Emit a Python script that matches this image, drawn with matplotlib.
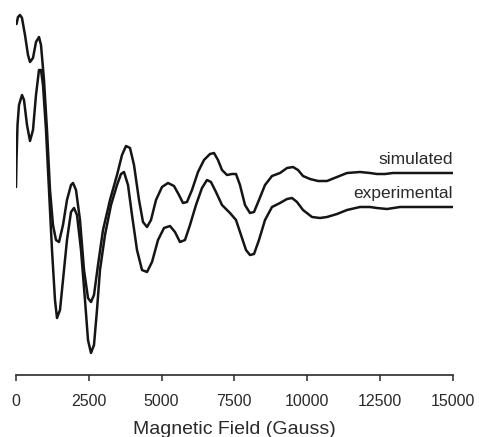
import numpy as np
import matplotlib
matplotlib.use("Agg")
import matplotlib.pyplot as plt

plt.rcParams['font.family'] = ['Liberation Sans', 'DejaVu Sans']

# magnetic field (Gauss) and signal (arb. units)
field_sim = [17, 69, 137, 206, 309, 412, 481, 584, 687, 790, 859, 962, 1065, 1168,
             1271, 1374, 1478, 1615, 1752, 1890, 1959, 2062, 2199, 2337, 2474, 2577,
             2680, 2818, 2990, 3230, 3471, 3643, 3780, 3918, 4055, 4227, 4364, 4502,
             4639, 4811, 5017, 5223, 5429, 5601, 5738, 5876, 6048, 6254, 6460, 6666,
             6804, 6941, 7079, 7251, 7423, 7560, 7697, 7869, 8041, 8179, 8350, 8557,
             8797, 9072, 9313, 9519, 9691, 9863, 10103, 10378, 10687, 11031, 11374,
             11821, 12164, 12405, 12680, 12955, 13539, 14227, 15000]
sim = [351, 358, 360, 357, 340, 320, 313, 317, 333, 338, 330, 295, 245, 185,
       150, 135, 133, 150, 175, 190, 192, 185, 155, 105, 77, 73,
       80, 110, 145, 175, 200, 220, 229, 227, 210, 175, 153, 148,
       155, 175, 188, 192, 189, 180, 172, 173, 185, 203, 215, 221,
       222, 215, 205, 200, 201, 201, 190, 170, 162, 163, 175, 190,
       199, 202, 207, 208, 205, 199, 196, 194, 194, 198, 202,
       203, 202, 201, 201, 202, 202, 202, 202]

field_exp = [0, 17, 52, 103, 206, 275, 378, 481, 584, 687, 790, 859, 928, 1031,
             1134, 1237, 1340, 1409, 1512, 1615, 1752, 1890, 1993, 2096, 2234, 2371,
             2474, 2577, 2680, 2783, 2886, 3058, 3265, 3471, 3608, 3711, 3849, 3986,
             4158, 4330, 4502, 4674, 4880, 5086, 5292, 5463, 5635, 5807, 5979, 6185,
             6391, 6563, 6700, 6872, 7079, 7354, 7560, 7732, 7904, 8041, 8179, 8350,
             8557, 8797, 9072, 9313, 9485, 9656, 9863, 10172, 10447, 10687, 11031,
             11374, 11821, 12164, 12405, 12749, 13196, 13883, 15000]
exp = [188, 215, 250, 270, 280, 275, 250, 234, 245, 280, 305, 305, 290, 245,
       185, 125, 75, 57, 65, 95, 135, 163, 167, 160, 125, 75,
       35, 22, 30, 65, 105, 140, 170, 190, 201, 203, 190, 160,
       125, 105, 103, 113, 135, 147, 149, 143, 133, 135, 150, 170,
       187, 195, 193, 183, 170, 162, 155, 140, 125, 120, 121, 135,
       155, 168, 172, 176, 177, 173, 165, 158, 157, 158, 161,
       165, 168, 168, 167, 166, 168, 168, 168]

fig = plt.figure(figsize=(4.79, 4.37), dpi=100)
ax = fig.add_axes([16 / 479, 62 / 437, 436.5 / 479, 375 / 437])

for fx, fy in [(field_sim, sim), (field_exp, exp)]:
    ax.plot(fx, fy, color='#151515', lw=1.8, solid_joinstyle='round',
            solid_capstyle='round')

ax.text(15000, 208, 'simulated', ha='right', va='bottom', fontsize=12.5, color='#2a2a2a')
ax.text(15000, 174, 'experimental', ha='right', va='bottom', fontsize=12.5, color='#2a2a2a')

ax.set_xlim(0, 15000)
ax.set_ylim(0, 375)
ax.set_xticks([0, 2500, 5000, 7500, 10000, 12500, 15000])
ax.set_yticks([])
for s in ['top', 'left', 'right']:
    ax.spines[s].set_visible(False)
ax.spines['bottom'].set_linewidth(1.2)
ax.spines['bottom'].set_color('#2a2a2a')
ax.tick_params(axis='x', length=4, width=1.1, pad=10, labelsize=11.5, colors='#2a2a2a')
ax.set_xlabel('Magnetic Field (Gauss)', fontsize=14, color='#2a2a2a', labelpad=8)
ax.patch.set_alpha(0)

fig.savefig('out.png', dpi=100)
